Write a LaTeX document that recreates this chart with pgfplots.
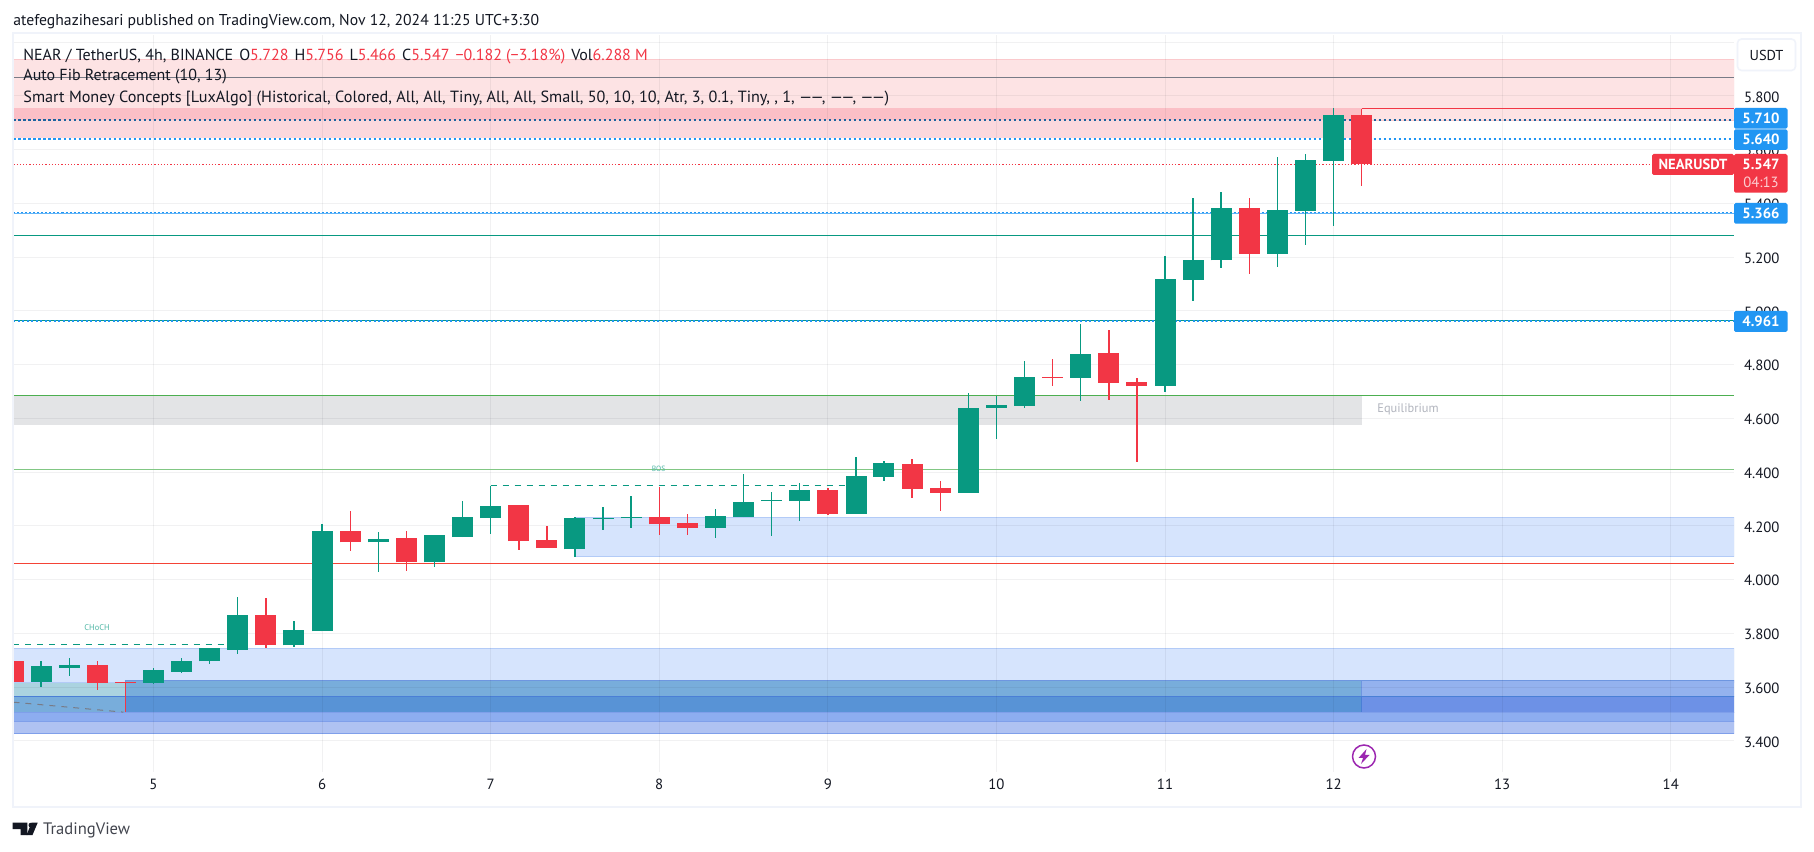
\documentclass[border=0pt]{standalone}
\usepackage{fontspec}
\setmainfont{PT Sans}
\usepackage{pgfplots}
\usepackage{pgfplotstable}
\pgfplotsset{compat=1.18}

\definecolor{upc}{HTML}{089981}
\definecolor{dnc}{HTML}{F23645}
\definecolor{tvblue}{HTML}{2196F3}
\definecolor{ink}{HTML}{131722}
\definecolor{framec}{HTML}{F0F3FA}
\newcommand{\hexc}[1]{\definecolor{#1}{HTML}{#1}}
\hexc{FDE3E4}\hexc{FBC9CC}\hexc{FBD8DD}\hexc{FBBFC6}\hexc{E3E4E6}\hexc{D6E4FD}\hexc{B3CBF7}
\hexc{ABD3E0}\hexc{78ADDB}\hexc{4A7FD6}\hexc{6E96E0}\hexc{5893D6}\hexc{94B2EE}\hexc{6D91E6}
\hexc{8DADF0}\hexc{7F9FEA}\hexc{AFC2F2}\hexc{787B86}\hexc{4CAF50}\hexc{81C784}\hexc{F44336}
\hexc{B2B5BE}\hexc{9C27B0}

% open high low close, one row per 4h candle
\pgfplotstableread{
d o h l c
4.333 3.621 3.696 3.602 3.677
4.500 3.673 3.710 3.640 3.684
5.000 3.617 3.673 3.610 3.662
5.167 3.658 3.708 3.654 3.699
5.333 3.696 3.744 3.688 3.744
5.500 3.740 3.937 3.725 3.867
5.833 3.755 3.848 3.751 3.811
6.000 3.808 4.206 3.808 4.180
6.333 4.139 4.177 4.028 4.151
6.667 4.064 4.166 4.046 4.166
6.833 4.158 4.292 4.158 4.232
7.000 4.229 4.350 4.169 4.273
7.500 4.113 4.232 4.084 4.229
7.667 4.225 4.270 4.184 4.229
7.833 4.229 4.311 4.192 4.233
8.333 4.192 4.262 4.154 4.236
8.500 4.233 4.393 4.233 4.288
8.667 4.292 4.326 4.162 4.296
8.833 4.292 4.359 4.218 4.333
9.167 4.245 4.457 4.245 4.386
9.333 4.383 4.442 4.368 4.435
9.833 4.323 4.695 4.323 4.639
10.000 4.639 4.684 4.524 4.651
10.167 4.647 4.814 4.639 4.755
10.500 4.751 4.952 4.666 4.840
11.000 4.721 5.204 4.699 5.118
11.167 5.116 5.419 5.036 5.190
11.333 5.188 5.443 5.160 5.384
11.667 5.212 5.573 5.164 5.376
11.833 5.372 5.585 5.246 5.562
12.000 5.559 5.756 5.317 5.730
}\upcandles

\pgfplotstableread{
d o h l c
4.167 3.699 3.726 3.618 3.621
4.667 3.684 3.696 3.588 3.617
4.833 3.621 3.621 3.507 3.617
5.667 3.867 3.930 3.744 3.755
6.167 4.180 4.255 4.106 4.139
6.500 4.154 4.180 4.032 4.064
7.167 4.277 4.277 4.110 4.143
7.333 4.147 4.199 4.117 4.117
8.000 4.233 4.344 4.166 4.206
8.167 4.210 4.244 4.166 4.192
9.000 4.333 4.340 4.240 4.244
9.500 4.431 4.450 4.304 4.338
9.667 4.342 4.368 4.256 4.323
10.333 4.755 4.822 4.721 4.751
10.667 4.844 4.930 4.669 4.732
10.833 4.736 4.751 4.438 4.721
11.500 5.384 5.421 5.138 5.212
12.167 5.730 5.753 5.466 5.547
}\downcandles

% fill, border, x from, x to, y top, y bottom
\newcommand{\zone}[6]{\addplot[fill=#1,draw=#2,line width=.5pt] coordinates {(#3,#5)(#4,#5)(#4,#6)(#3,#6)} -- cycle;}
% style, y, x from, x to
\newcommand{\level}[4]{\addplot[#1] coordinates {(#3,#2)(#4,#2)};}

\newcommand{\legendfont}{\fontsize{8}{9.6}\selectfont}
\newcommand{\rd}[1]{\textcolor{dnc}{#1}}
\newcommand{\dd}{—\kern-.9pt—}

\begin{document}
\begin{tikzpicture}
\fill[white] (0,0) rectangle (907pt,425.5pt);

\begin{axis}[
  at={(6.75pt,39.4pt)}, anchor=south west,
  scale only axis, width=860.25pt, height=368.35pt,
  xmin=4.1696, xmax=14.375, ymin=3.2835, ymax=6.025,
  axis line style={draw=none},
  xtick={5,...,14}, ytick={3.4,3.6,3.8,4.0,4.2,4.4,4.6,4.8,5.0,5.2,5.4,5.6,5.8},
  major tick length=0pt,
  yticklabel pos=right,
  tick label style={font=\fontsize{7.4}{8}\selectfont, text=ink},
  yticklabel style={xshift=1.5pt,yshift=-.5pt,/pgf/number format/.cd, fixed, fixed zerofill, precision=3, assume math mode=true},
  xticklabel style={/pgf/number format/.cd, fixed, precision=0, assume math mode=true},
]

% supply and demand zones, drawn opaque in the colours they blend to
\zone{FDE3E4}{FBC9CC}{4.1696}{14.375}{5.937}{5.709}
\zone{FBD8DD}{none}{4.1696}{12.167}{5.709}{5.643}
\zone{FBBFC6}{none}{4.1696}{12.167}{5.755}{5.709}
\zone{E3E4E6}{none}{4.1696}{12.167}{4.687}{4.575}
\zone{D6E4FD}{B3CBF7}{7.506}{14.375}{4.231}{4.085}
\zone{D6E4FD}{B3CBF7}{4.1696}{14.375}{3.743}{3.617}
\zone{ABD3E0}{none}{4.1696}{4.833}{3.617}{3.564}
\zone{78ADDB}{4A7FD6}{4.1696}{4.833}{3.564}{3.506}
\zone{78ADDB}{6E96E0}{4.833}{12.167}{3.624}{3.564}
\zone{5893D6}{4A7FD6}{4.833}{12.167}{3.564}{3.506}
\zone{94B2EE}{6E96E0}{12.167}{14.375}{3.624}{3.564}
\zone{6D91E6}{4A7FD6}{12.167}{14.375}{3.564}{3.506}
\zone{8DADF0}{7F9FEA}{4.1696}{14.375}{3.506}{3.474}
\zone{AFC2F2}{7F9FEA}{4.1696}{14.375}{3.474}{3.426}

% grid goes over the zones
\pgfplotsinvokeforeach{5,6,7,8,9,10,11,12,13,14}{
  \addplot[ink,opacity=.06,line width=.5pt] coordinates {(#1,3.2835)(#1,6.025)};
}
\pgfplotsinvokeforeach{3.4,3.6,3.8,4.0,4.2,4.4,4.6,4.8,5.0,5.2,5.4,5.6,5.8,6.0}{
  \addplot[ink,opacity=.06,line width=.5pt] coordinates {(4.1696,#1)(14.375,#1)};
}

% fib levels and price lines
\level{color=787B86,line width=.6pt}{5.870}{4.1696}{14.375}
\level{color=upc,line width=.5pt}{5.281}{4.1696}{14.375}
\level{color=upc,line width=.5pt}{4.966}{4.1696}{14.375}
\level{color=4CAF50,line width=.45pt}{4.687}{4.1696}{14.375}
\level{color=81C784,line width=.6pt}{4.410}{4.1696}{14.375}
\level{color=F44336,line width=.5pt}{4.061}{4.1696}{14.375}
\level{color=tvblue!70,line width=.4pt}{5.362}{4.1696}{14.375}
\level{color=dnc,line width=.6pt}{5.753}{12.167}{14.375}
\level{color=tvblue!60!ink,line width=1pt,dash pattern=on 1.25pt off 1.25pt}{5.710}{4.1696}{14.375}
\level{color=tvblue,line width=1pt,dash pattern=on 1.25pt off 1.25pt}{5.640}{4.1696}{14.375}
\level{color=tvblue,line width=.6pt,dash pattern=on 1pt off 1pt}{5.366}{4.1696}{14.375}
\level{color=tvblue,line width=1pt,dash pattern=on 1pt off 1.25pt}{4.961}{4.1696}{14.375}
\level{color=dnc,line width=.4pt,dash pattern=on .6pt off 1pt}{5.547}{4.1696}{14.375}

% structure lines
\level{color=upc,line width=.5pt,dash pattern=on 3pt off 3pt}{3.7575}{4.1696}{5.435}
\level{color=upc,line width=.5pt,dash pattern=on 3pt off 3pt}{4.350}{7.000}{9.150}
\addplot[color=787B86,line width=.5pt,dash pattern=on 3pt off 3pt] coordinates {(4.1696,3.544)(4.822,3.507)};

% candles: wicks then bodies
\addplot[draw=none,mark=none,error bars/.cd,y dir=both,y explicit,error mark=none,
  error bar style={draw=upc,line width=.7pt}]
  table[x=d,y=o,y error plus expr=\thisrow{h}-\thisrow{o},y error minus expr=\thisrow{o}-\thisrow{l}] {\upcandles};
\addplot[draw=none,mark=none,error bars/.cd,y dir=both,y explicit,error mark=none,
  error bar style={draw=dnc,line width=.7pt}]
  table[x=d,y=o,y error plus expr=\thisrow{h}-\thisrow{o},y error minus expr=\thisrow{o}-\thisrow{l}] {\downcandles};
\addplot[draw=none,mark=none,error bars/.cd,y dir=plus,y explicit,error mark=none,
  error bar style={draw=upc,line width=10.5pt}]
  table[x=d,y=o,y error plus expr=\thisrow{c}-\thisrow{o}] {\upcandles};
\addplot[draw=none,mark=none,error bars/.cd,y dir=plus,y explicit,error mark=none,
  error bar style={draw=dnc,line width=10.5pt}]
  table[x=d,y=c,y error plus expr=\thisrow{o}-\thisrow{c}] {\downcandles};
\end{axis}

% everything below is page furniture, in reference pixels, y down
\begin{scope}[x=.5pt,y=-.5pt,yshift=425.5pt]
\draw[framec,line width=1pt] (13,33.5) rectangle (1801,806.5);

\node[anchor=west,inner sep=0,text=ink,font=\fontsize{7.85}{9.4}\selectfont] at (13,21.5)
  {atefeghazihesari published on TradingView.com, Nov 12, 2024 11:25 UTC+3:30};
\node[anchor=west,inner sep=0,text=ink,font=\legendfont] at (23,56.5)
  {NEAR / TetherUS, 4h, BINANCE\hspace{3pt}O\rd{5.728}\hspace{3pt}H\rd{5.756}\hspace{3pt}L\rd{5.466}\hspace{3pt}C\rd{5.547}\hspace{3pt}\rd{−0.182 (−3.18\%)}\hspace{3pt}Vol\rd{6.288 M}};
\node[anchor=west,inner sep=0,text=ink,font=\legendfont] at (23,77) {Auto Fib Retracement (10, 13)};
\node[anchor=west,inner sep=0,text=ink,font=\fontsize{8.1}{9.6}\selectfont] at (23,98.5)
  {Smart Money Concepts [LuxAlgo] (Historical, Colored, All, All, Tiny, All, All, Small, 50, 10, 10, Atr, 3, 0.1, Tiny, , 1, \dd, \dd, \dd)};

\node[text=upc!70,inner sep=0,font=\fontsize{4.2}{5}\selectfont] at (97,628) {CHoCH};
\node[text=upc!70,inner sep=0,font=\fontsize{3.8}{4}\selectfont] at (658.6,469.3) {BOS};
\node[anchor=west,text=B2B5BE,inner sep=0,font=\fontsize{6.2}{7}\selectfont] at (1377,409.5) {Equilibrium};

% USDT button
\draw[framec,fill=white,line width=.8pt,rounded corners=2pt] (1737.5,39) rectangle (1795.5,70.5);
\node[text=ink,inner sep=0,font=\fontsize{7.2}{8}\selectfont] at (1766.5,55) {USDT};

% price labels
\foreach \yt/\yb/\txt in {108/128.7/5.710, 129.3/150/5.640, 203/223.7/5.366, 311/332/4.961}{
  \fill[tvblue,rounded corners=.8pt] (1734,\yt) rectangle (1787.5,\yb);
  \node[text=white,inner sep=0,font=\fontsize{7.4}{8}\selectfont\bfseries] at (1761,{(\yt+\yb)/2}) {\txt};
}
\fill[dnc,rounded corners=.8pt] (1652,154) rectangle (1734,175);
\node[text=white,inner sep=0,font=\fontsize{7.3}{8}\selectfont\bfseries] at (1693,164.5) {NEARUSDT};
\fill[dnc,rounded corners=.8pt] (1734,154) rectangle (1787.5,192.7);
\node[text=white,inner sep=0,font=\fontsize{7.4}{8}\selectfont\bfseries] at (1761,164.7) {5.547};
\node[text=white!75!dnc,inner sep=0,font=\fontsize{7.4}{8}\selectfont] at (1761,182.7) {04:13};

% purple flash marker
\draw[9C27B0,fill=white,line width=.75pt] (1364,756.5) circle (11.5);
\fill[9C27B0] (1366.5,749)--(1358.5,758)--(1363,758)--(1361,764)--(1369.5,755)--(1365,755)--cycle;

% TradingView logo
\fill[ink] (12.7,822.7)--(27.3,822.7)--(27.3,835)--(20.5,835)--(20.5,829)--(12.7,829)--cycle;
\fill[ink] (31,825.2) circle (2.5);
\fill[ink] (37.7,822.7)--(32.5,835)--(26.5,835)--(31.7,822.7)--cycle;
\node[anchor=west,text=ink!80,inner sep=0,font=\fontsize{8.3}{9}\selectfont] at (42.7,830.5) {TradingView};
\end{scope}
\end{tikzpicture}
\end{document}
